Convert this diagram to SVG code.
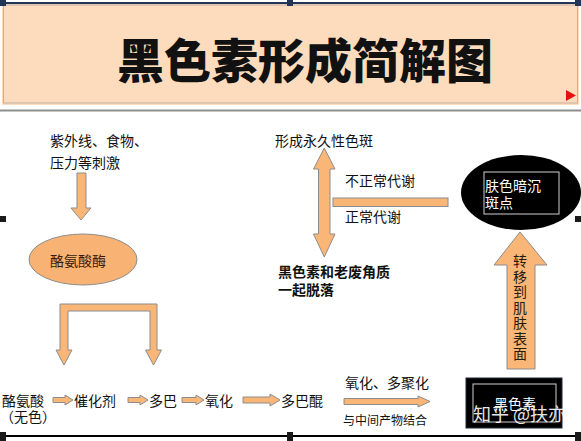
<svg xmlns="http://www.w3.org/2000/svg" width="581" height="441" viewBox="0 0 581 441">
<style>
text{font-family:"Noto Sans CJK SC","Liberation Sans",sans-serif;font-size:14px;fill:#111}
.w{fill:#fff}
.b{font-weight:bold}
.arr{fill:#F9B677;stroke:#8c8c8c;stroke-width:1}
.box{fill:none;stroke:#cfcfcf;stroke-width:1}
.h{fill:#1a1a1a}
</style>
<rect width="581" height="441" fill="#fff"/>
<g id="title">
<rect x="2" y="4" width="577" height="101" fill="#FDDCBE"/>
<rect x="3.5" y="5" width="574" height="98" fill="none" stroke="#bfb2a4" stroke-width="1"/>
<line x1="0" y1="3" x2="581" y2="3" stroke="#233556" stroke-width="2"/>
<rect x="0" y="0" width="6" height="6" fill="#233556"/>
<rect x="287" y="0" width="6" height="6" fill="#233556"/>
<rect x="575" y="0" width="6" height="6" fill="#233556"/>
<text x="117" y="78" style="font-size:47px;font-weight:900">黑色素形成简解图</text>
<path d="M566,90 L576,95.5 L566,101 Z" fill="#e51010"/>
</g>
<line x1="0" y1="110.5" x2="581" y2="110.5" stroke="#8e8e8e" stroke-width="2"/>
<line x1="0" y1="436" x2="581" y2="436" stroke="#000" stroke-width="2"/>
<rect class="h" x="0" y="432" width="6" height="9"/>
<rect class="h" x="287" y="432" width="6" height="9"/>
<rect class="h" x="575" y="432" width="6" height="9"/>
<rect class="h" x="0" y="216" width="6" height="6"/>
<rect class="h" x="575" y="216" width="6" height="6"/>
<g id="stimulus">
<text x="50" y="146">紫外线、食物、</text>
<text x="50" y="168">压力等刺激</text>
</g>
<g id="enzyme">
<ellipse cx="83" cy="259.5" rx="54" ry="25.5" fill="#F8B273" stroke="#8c8c8c"/>
<text x="50" y="266" style="fill:#3a1a0a">酪氨酸酶</text>
</g>
<g id="spots">
<text x="275" y="146">形成永久性色斑</text>
</g>
<g id="shed">
<text class="b" x="278" y="277">黑色素和老废角质</text>
<text class="b" x="278" y="295">一起脱落</text>
</g>
<g id="dull">
<ellipse cx="521" cy="192.5" rx="60" ry="37.5" fill="#000"/>
<rect class="box" x="484" y="172" width="75" height="42"/>
<text class="w" x="485" y="191">肤色暗沉</text>
<text class="w" x="485" y="208">斑点</text>
</g>
<g id="tyrosine">
<text x="2" y="406">酪氨酸</text>
<text x="0" y="422">（无色）</text>
</g>
<g id="catalyst"><text x="74" y="406">催化剂</text></g>
<g id="dopa"><text x="149" y="406">多巴</text></g>
<g id="oxidize"><text x="205" y="406">氧化</text></g>
<g id="dopaquinone"><text x="281" y="406">多巴醌</text></g>
<g id="melanin">
<rect x="466" y="378" width="96" height="50" fill="#000" stroke="#1f2a3a"/>
<rect class="box" x="473" y="384" width="83" height="38"/>
<text class="w" x="494" y="409">黑色素</text>
<text class="w" x="473" y="421" style="font-size:18px;opacity:0.9" xml:space="preserve">知乎 @扶亦</text>
</g>
<g id="connectors">
<path class="arr" d="M77,173 H86 V208 H91 L81,220 L71,208 H77 Z"/>
<path class="arr" d="M60,304 H157 V350 H161.5 L153.5,365 L145.5,350 H150 V311 H68 V350 H72 L64,365 L56,350 H60 Z"/>
<path class="arr" d="M53,397.5 H65 V395 L73,400 L65,405 V402.5 H53 Z"/>
<path class="arr" d="M128,397.5 H140 V395 L148,400 L140,405 V402.5 H128 Z"/>
<path class="arr" d="M182,397.5 H196 V395 L204,400 L196,405 V402.5 H182 Z"/>
<path class="arr" d="M243,397 H270 V394 L280,400 L270,406 V403 H243 Z"/>
<path class="arr" d="M344,398.5 H418 V396 L430,401.5 L418,407 V404.5 H344 Z"/>
<text x="345" y="388">氧化、多聚化</text>
<text x="343" y="425" style="font-size:12px">与中间产物结合</text>
<path class="arr" d="M324.3,148 L335,169 H330 V234 H335 L324.3,257 L313.5,234 H318.5 V169 H313.5 Z"/>
<rect class="arr" x="333" y="198" width="115" height="8.5"/>
<text x="345" y="186">不正常代谢</text>
<text x="345" y="222">正常代谢</text>
<path class="arr" d="M520,232 L547,265 H535 V369 H507 V265 H494 Z"/>
<text x="520" y="254" style="fill:#2a1a0a;writing-mode:vertical-rl;letter-spacing:1.5px">转移到肌肤表面</text>
</g>
</svg>
